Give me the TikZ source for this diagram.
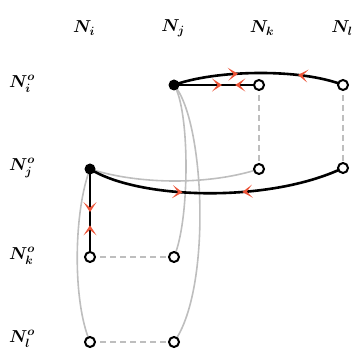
\documentclass[tikz,border=0pt]{standalone}
\usetikzlibrary{arrows.meta,decorations.markings,backgrounds}
\definecolor{arrred}{RGB}{236,84,56}
\definecolor{lgray}{RGB}{190,190,190}
\tikzset{rtip/.tip={Stealth[arrred,length=10pt,width=13pt,inset=5.5pt]}}
\begin{document}
\begin{tikzpicture}[x=1pt,y=-1pt,
  opendot/.style={circle,draw=black,fill=white,line width=2pt,minimum size=10pt,inner sep=0pt},
  filldot/.style={circle,fill=black,minimum size=11pt,inner sep=0pt},
  thickedge/.style={line width=2.6pt,draw=black},
  grayedge/.style={line width=1.6pt,draw=lgray},
  dashedge/.style={line width=1.6pt,draw=lgray,dash pattern=on 6pt off 4pt},
  lab/.style={font=\fontsize{17}{19}\selectfont\boldmath,inner sep=0pt},
  meet/.style 2 args={postaction={decorate,decoration={markings,
     mark=at position #1 with {\arrow{rtip}},
     mark=at position #2 with {\arrowreversed{rtip}}}}}]
\useasboundingbox (0,0) rectangle (356,352);
% column labels
\node[lab] (ci) at (84,28) {$N_i$};
\node[lab] (cj) at (173,28) {$N_j$};
\node[lab] (ck) at (262,28) {$N_k$};
\node[lab] (cl) at (342,28) {$N_l$};
% row labels
\node[lab] (ri) at (22,84) {$N_i^o$};
\node[lab] (rj) at (22,168) {$N_j^o$};
\node[lab] (rk) at (22,256) {$N_k^o$};
\node[lab] (rl) at (22,339) {$N_l^o$};
% nodes
\node[filldot] (ji) at (174,85) {};
\node[opendot] (ki) at (259,85) {};
\node[opendot] (li) at (343,85) {};
\node[filldot] (ij) at (90,169) {};
\node[opendot] (kj) at (259,169) {};
\node[opendot] (lj) at (343,168) {};
\node[opendot] (ik) at (90,257) {};
\node[opendot] (jk) at (174,257) {};
\node[opendot] (il) at (90,342) {};
\node[opendot] (jl) at (174,342) {};
\begin{scope}[on background layer]
% gray curves
\draw[grayedge] (ij.center) .. controls (140,185) and (210,185) .. (kj.center);
\draw[grayedge] (ji.center) .. controls (190,110) and (190,220) .. (jk.center);
\draw[grayedge] (ji.center) .. controls (205,120) and (212,290) .. (jl.center);
\draw[grayedge] (ij.center) .. controls (74,210) and (72,300) .. (il.center);
% dashed
\draw[dashedge] (ki.center) -- (kj.center);
\draw[dashedge] (li.center) -- (lj.center);
\draw[dashedge] (ik.center) -- (jk.center);
\draw[dashedge] (il.center) -- (jl.center);
% black edges
\draw[thickedge,meet={0.565}{0.72}] (ji.center) -- (ki.center);
\draw[thickedge,meet={0.38}{0.73}] (ji.center) .. controls (215,70) and (300,68) .. (li.center);
\draw[thickedge,meet={0.49}{0.64}] (ij.center) -- (ik.center);
\draw[thickedge,meet={0.37}{0.6}] (ij.center) .. controls (140,200) and (270,203) .. (lj.center);
\end{scope}
\end{tikzpicture}
\end{document}
